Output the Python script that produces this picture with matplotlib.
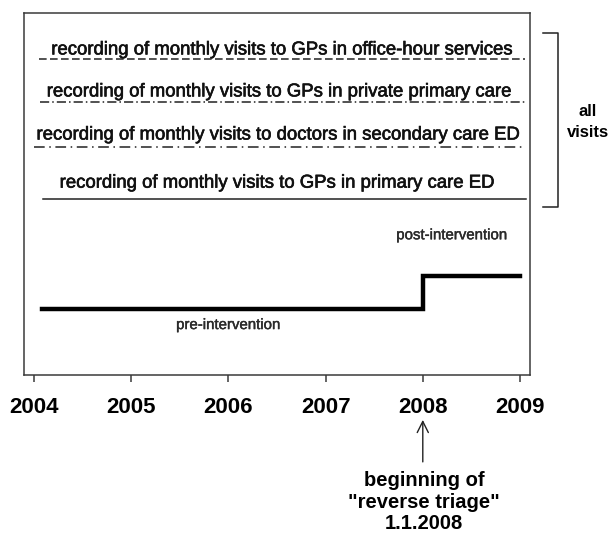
import matplotlib
matplotlib.use("Agg")
import matplotlib.pyplot as plt
from matplotlib.lines import Line2D
import matplotlib.patheffects as pe

plt.rcParams['font.family'] = ['Liberation Sans', 'DejaVu Sans']

# ---- data ----
years = [2004, 2005, 2006, 2007, 2008, 2009]
step_x = [2004.08, 2008.0, 2008.0, 2009.0]
step_y = [1.82, 1.82, 2.73, 2.73]
series_labels = [
    "recording of monthly visits to GPs in office-hour services",
    "recording of monthly visits to GPs in private primary care",
    "recording of monthly visits to doctors in secondary care ED",
    "recording of monthly visits to GPs in primary care ED",
]
series_levels = [8.73, 7.54, 6.30, 4.86]
series_x0 = [2004.05, 2004.06, 2004.0, 2004.09]
series_x1 = [2009.05, 2009.05, 2009.05, 2009.06]
label_x = [2006.54, 2006.51, 2006.50, 2006.49]
label_y = [8.98, 7.82, 6.63, 5.30]
series_styles = [(0, (5, 2.2)), (0, (6, 2, 1, 2)), (0, (7, 3, 1, 3)), '-']

W, H = 610, 539
fig = plt.figure(figsize=(W / 100, H / 100), dpi=100)
ax = fig.add_axes([24 / W, 1 - 375 / H, (530 - 24) / W, (375 - 13) / H])
ax.set_xlim(2003.897, 2009.103)
ax.set_ylim(0, 10)

frame_col = '#3a3a3a'
for s in ax.spines.values():
    s.set_color(frame_col)
    s.set_linewidth(1.1)

ax.plot(step_x, step_y, color='black', lw=3.2, solid_joinstyle='miter')

heavy = [pe.withStroke(linewidth=0.45, foreground='#111111')]
for lab, lev, x0, x1, lx, ly, ls in zip(series_labels, series_levels, series_x0,
                                         series_x1, label_x, label_y, series_styles):
    ax.plot([x0, x1], [lev, lev], color='#222222', lw=1.1, linestyle=ls)
    ax.text(lx, ly, lab, ha='center', va='center', fontsize=13.35, color='#111111',
            path_effects=heavy)

light = [pe.withStroke(linewidth=0.3, foreground='#2a2a2a')]
ax.text(2006.0, 1.38, "pre-intervention", ha='center', va='center', fontsize=10.8,
        color='#2a2a2a', path_effects=light)
ax.text(2008.3, 3.86, "post-intervention", ha='center', va='center', fontsize=10.8,
        color='#2a2a2a', path_effects=light)

ax.set_xticks(years)
ax.set_xticklabels([str(y) for y in years], fontsize=16, fontweight='bold')
ax.tick_params(axis='x', direction='out', length=5, width=1.1, color=frame_col, pad=10.5)
ax.set_yticks([])

# arrow to 2008
ax.annotate("", xy=(2008, -0.124), xycoords=('data', 'axes fraction'),
            xytext=(2008, -0.240), textcoords=('data', 'axes fraction'),
            arrowprops=dict(arrowstyle='->', lw=1.0, color='#222222',
                            mutation_scale=20, shrinkA=0, shrinkB=0))
fig.text(424 / W, 1 - 502 / H, "beginning of\n\"reverse triage\"\n1.1.2008",
         ha='center', va='center', fontsize=14.5, fontweight='bold', linespacing=1.18)

# bracket
def fx(x): return x / W
def fy(y): return 1 - y / H
fig.add_artist(Line2D([fx(543), fx(558), fx(558), fx(543)],
                      [fy(33), fy(33), fy(207), fy(207)], color='#222222', lw=1.1))
fig.text(fx(588), fy(122), "all\nvisits", ha='center', va='center', fontsize=12,
         fontweight='bold', linespacing=1.5)

fig.savefig('out.png', dpi=100)
